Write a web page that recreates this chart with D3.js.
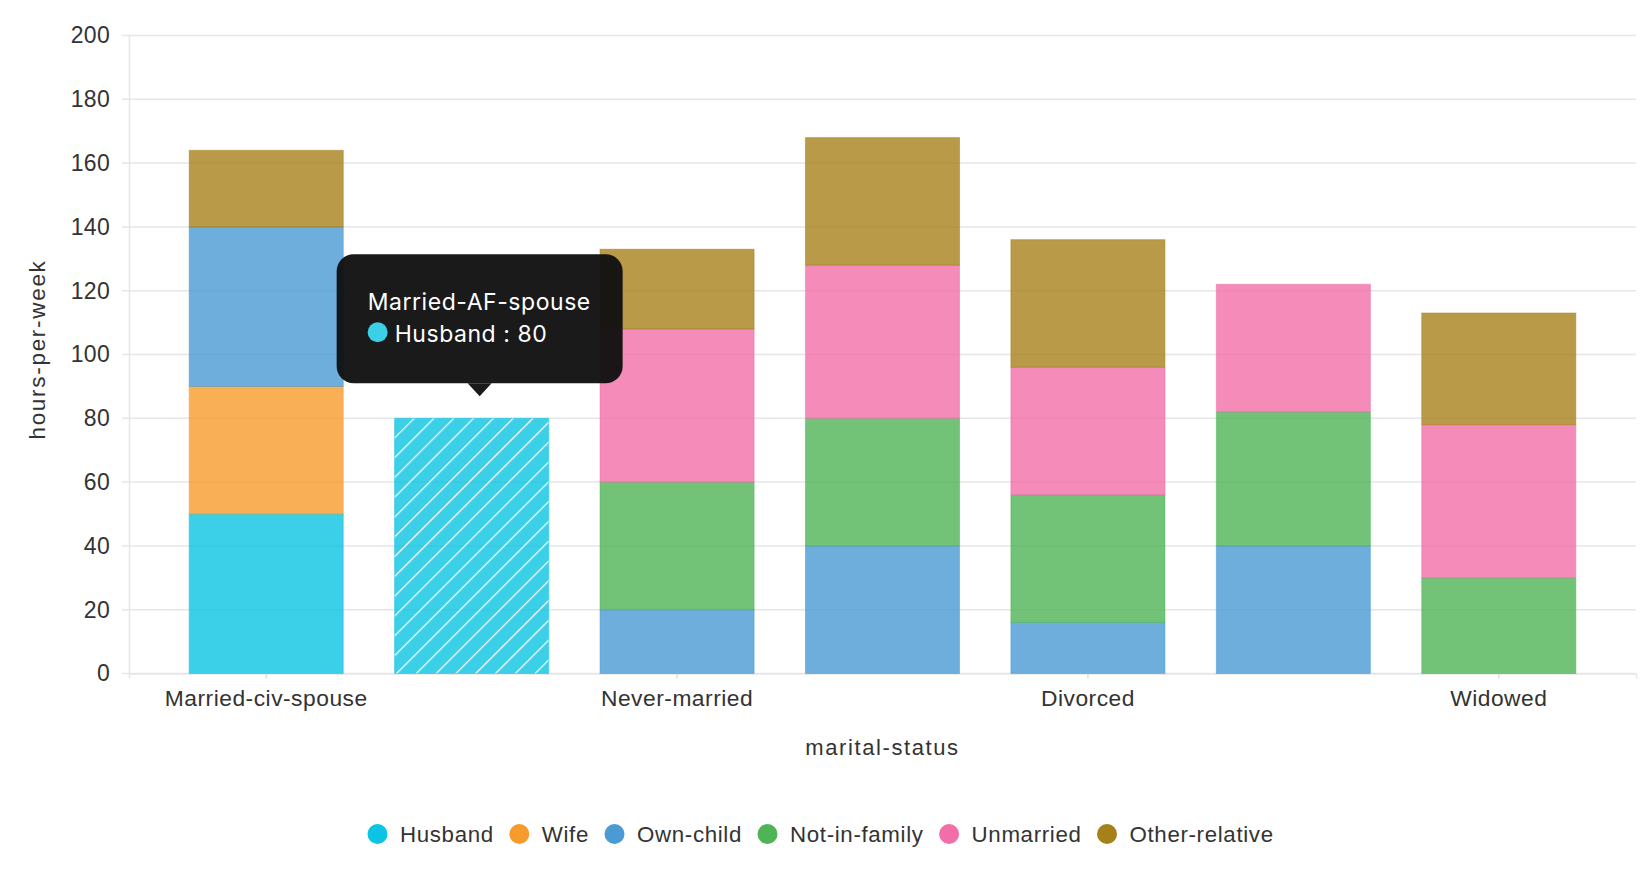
<!DOCTYPE html>
<html>
<head>
<meta charset="utf-8">
<script src="https://cdn.jsdelivr.net/npm/d3@7"></script>
<style>
  html, body { margin: 0; padding: 0; background: #fff; }
  svg { display: block; }
  text { font-family: "Liberation Sans", Arial, sans-serif; fill: #333; }
</style>
</head>
<body>
<svg id="chart" width="1648" height="874"></svg>
<script>

// data
var categories = ['Married-civ-spouse', 'Married-AF-spouse', 'Never-married', 'Separated', 'Divorced', 'Married-spouse-absent', 'Widowed'];
var relationships = ['Husband', 'Wife', 'Own-child', 'Not-in-family', 'Unmarried', 'Other-relative'];
var husband       = [50, 80, 0, 0, 0, 0, 0];
var wife          = [40, 0, 0, 0, 0, 0, 0];
var ownChild      = [50, 0, 20, 40, 16, 40, 0];
var notInFamily   = [0, 0, 40, 40, 40, 42, 30];
var unmarried     = [0, 0, 48, 48, 40, 40, 48];
var otherRelative = [24, 0, 25, 40, 40, 0, 35];
var yTicks = [0, 20, 40, 60, 80, 100, 120, 140, 160, 180, 200];
var colors = ['#0bc3e2', '#f79b2c', '#4a9ad4', '#4fb455', '#f16ea8', '#a6811a'];

// the hovered bar, shown hatched with a tooltip
var hovered = { category: 'Married-AF-spouse', series: 'Husband' };

var values = [husband, wife, ownChild, notInFamily, unmarried, otherRelative];
var rows = categories.map(function (c, i) {
  var row = { status: c };
  relationships.forEach(function (r, j) { row[r] = values[j][i]; });
  return row;
});

var svg = d3.select('#chart');

var x = d3.scaleBand()
  .domain(categories)
  .range([129, 1636])
  .paddingInner(0.25)
  .paddingOuter(0.293);

var y = d3.scaleLinear()
  .domain([0, 200])
  .range([673.5, 35.5]);

var color = d3.scaleOrdinal().domain(relationships).range(colors);

// hatch pattern for hovered bar
var defs = svg.append('defs');
var pat = defs.append('pattern')
  .attr('id', 'hatch')
  .attr('patternUnits', 'userSpaceOnUse')
  .attr('width', 14)
  .attr('height', 14)
  .attr('patternTransform', 'rotate(45)');
pat.append('rect')
  .attr('width', 14).attr('height', 14)
  .attr('fill', color(hovered.series)).attr('fill-opacity', 0.8);
pat.append('line')
  .attr('x1', 0).attr('y1', 0).attr('x2', 0).attr('y2', 14)
  .attr('stroke', '#fff').attr('stroke-width', 2.4);

// grid
svg.append('g')
  .selectAll('line')
  .data(yTicks)
  .join('line')
  .attr('x1', 122).attr('x2', 1636)
  .attr('y1', function (d) { return y(d); })
  .attr('y2', function (d) { return y(d); })
  .attr('stroke', '#e6e6e6')
  .attr('stroke-width', 1.5);

// y axis
var yAxis = svg.append('g')
  .attr('transform', 'translate(129,0)')
  .call(d3.axisLeft(y).tickValues(yTicks).tickSize(0).tickPadding(19));
yAxis.select('.domain').attr('stroke', '#e6e6e6').attr('stroke-width', 1.5);
yAxis.selectAll('text')
  .style('font-size', '23px')
  .style('letter-spacing', '0.3px')
  .style('fill', '#333');

// x axis, every other label shown
var xAxis = svg.append('g')
  .attr('transform', 'translate(0,' + y(0) + ')')
  .call(d3.axisBottom(x)
    .tickValues(categories.filter(function (d, i) { return i % 2 === 0; }))
    .tickSize(5).tickPadding(11));
xAxis.select('.domain').attr('stroke', '#e6e6e6').attr('stroke-width', 1.5);
xAxis.selectAll('.tick line').attr('stroke', '#e0e0e0').attr('stroke-width', 1.5);
xAxis.selectAll('text')
  .style('font-size', '22.8px')
  .style('letter-spacing', '0.5px')
  .style('fill', '#333');

// stacked bars
var stacked = d3.stack().keys(relationships)(rows);

svg.append('g')
  .selectAll('g')
  .data(stacked)
  .join('g')
  .each(function (layer) {
    d3.select(this).selectAll('rect')
      .data(layer.filter(function (d) { return d[1] - d[0] > 0; }))
      .join('rect')
      .attr('x', function (d) { return x(d.data.status); })
      .attr('width', x.bandwidth())
      .attr('y', function (d) { return y(d[1]); })
      .attr('height', function (d) { return y(d[0]) - y(d[1]); })
      .attr('fill', function (d) {
        if (d.data.status === hovered.category && layer.key === hovered.series) {
          return 'url(#hatch)';
        }
        return color(layer.key);
      })
      .attr('fill-opacity', function (d) {
        return (d.data.status === hovered.category && layer.key === hovered.series) ? 1 : 0.8;
      })
      .attr('stroke', color(layer.key))
      .attr('stroke-opacity', 0.5)
      .attr('stroke-width', 1);
  });

// axis titles
svg.append('text')
  .attr('x', (x.range()[0] + x.range()[1]) / 2)
  .attr('y', 755)
  .attr('text-anchor', 'middle')
  .style('font-size', '22px')
  .style('letter-spacing', '1.6px')
  .text('marital-status');

svg.append('text')
  .attr('transform', 'translate(45,' + ((y(0) + y(200)) / 2 - 5) + ') rotate(-90)')
  .attr('text-anchor', 'middle')
  .style('font-size', '22.5px')
  .style('letter-spacing', '1.7px')
  .text('hours-per-week');

// legend
var legend = svg.append('g');
var items = legend.selectAll('g')
  .data(relationships)
  .join('g');
items.append('circle')
  .attr('r', 10)
  .attr('cy', 834)
  .attr('fill', function (d) { return color(d); });
items.append('text')
  .attr('y', 841.7)
  .style('font-size', '22.3px')
  .style('letter-spacing', '0.65px')
  .text(function (d) { return d; });

var cx = 0;
var placed = [];
items.each(function () {
  var w = d3.select(this).select('text').node().getComputedTextLength();
  placed.push(cx);
  cx += 22.5 + w + 25.5;
});
var totalW = cx - 25.5 + 10;
var startX = 820.6 - totalW / 2 + 10;
items.each(function (d, i) {
  var g = d3.select(this);
  g.select('circle').attr('cx', startX + placed[i]);
  g.select('text').attr('x', startX + placed[i] + 22.5);
});

// tooltip on hovered bar
var hoverRow = rows[categories.indexOf(hovered.category)];
var tipX = x(hovered.category) + x.bandwidth() / 2 + 8;
var tipY = y(hoverRow[hovered.series]) - 22;
var tip = svg.append('g').attr('transform', 'translate(' + tipX + ',' + tipY + ')');
var boxW = 286, boxH = 129, boxLeft = -143, boxTop = -142;
tip.append('rect')
  .attr('x', boxLeft).attr('y', boxTop)
  .attr('width', boxW).attr('height', boxH)
  .attr('rx', 17)
  .attr('fill', '#111')
  .attr('fill-opacity', 0.96);
tip.append('path')
  .attr('d', 'M-12,' + (boxTop + boxH) + 'L0,' + (boxTop + boxH + 13) + 'L12,' + (boxTop + boxH) + 'Z')
  .attr('fill', '#111')
  .attr('fill-opacity', 0.96);
tip.append('text')
  .attr('x', boxLeft + 31)
  .attr('y', boxTop + 56)
  .style('font-family', 'Inter, "Noto Sans", sans-serif')
  .style('font-size', '23px')
  .style('letter-spacing', '0.55px')
  .style('fill', '#fff')
  .text(hovered.category);
tip.append('circle')
  .attr('cx', boxLeft + 41)
  .attr('cy', boxTop + 78)
  .attr('r', 10)
  .attr('fill', '#3ccfe8');
tip.append('text')
  .attr('x', boxLeft + 58)
  .attr('y', boxTop + 88)
  .style('font-family', 'Inter, "Noto Sans", sans-serif')
  .style('font-size', '23px')
  .style('letter-spacing', '0.55px')
  .style('fill', '#fff')
  .text(hovered.series + ' : ' + hoverRow[hovered.series]);

</script>
</body>
</html>
